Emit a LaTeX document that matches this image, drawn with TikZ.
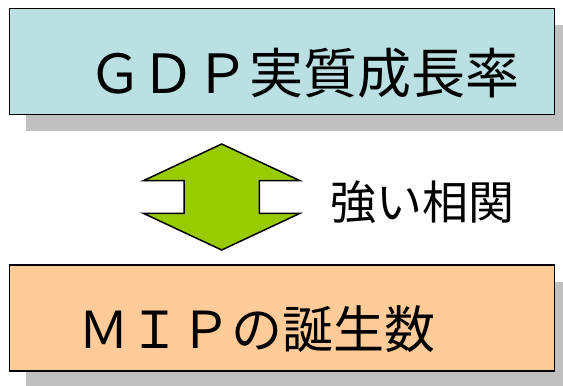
\documentclass[tikz,border=0pt]{standalone}
\usepackage{fontspec}
\newfontfamily\jp{Noto Sans CJK JP}
\definecolor{boxblue}{RGB}{186,224,227}
\definecolor{boxpeach}{RGB}{255,204,153}
\definecolor{arrowgreen}{RGB}{153,204,0}
\definecolor{shadowgray}{RGB}{192,192,192}
\tikzset{
  panel/.style={draw=black, line width=1.5pt, minimum width=545pt, minimum height=106pt, inner sep=0pt, outer sep=0pt},
  panelshadow/.style={fill=shadowgray, draw=none, minimum width=545pt, minimum height=106pt, inner sep=0pt, outer sep=0pt},
  label/.style={font=\jp, inner sep=0pt, anchor=base}
}
\begin{document}
\begin{tikzpicture}[x=1pt,y=-1pt]
\useasboundingbox (0,0) rectangle (563,386);
% top box
\node[panelshadow] (gdpshadow) at (298,78) {};
\node[panel, fill=boxblue] (gdp) at (282,61.5) {};
\node[label, font=\jp\fontsize{54}{54}\selectfont] (gdptext) at (304,93) {ＧＤＰ実質成長率};
% bottom box
\node[panelshadow] (mipshadow) at (298,335) {};
\node[panel, fill=boxpeach] (mip) at (282,318) {};
\node[label, font=\jp\fontsize{51}{51}\selectfont] (miptext) at (257,348.5) {ＭＩＰの誕生数};
% double arrow
\draw[fill=arrowgreen, line width=1.5pt, line join=miter]
  (221.7,144) -- (300,180.7) -- (259.3,180.7) -- (259.3,213.3) -- (300,213.3)
  -- (221.7,250) -- (143.3,213.3) -- (184,213.3) -- (184,180.7) -- (143.3,180.7) -- cycle;
\node[label, font=\jp\fontsize{46}{46}\selectfont] (corr) at (422.5,219) {強い相関};
\end{tikzpicture}
\end{document}
